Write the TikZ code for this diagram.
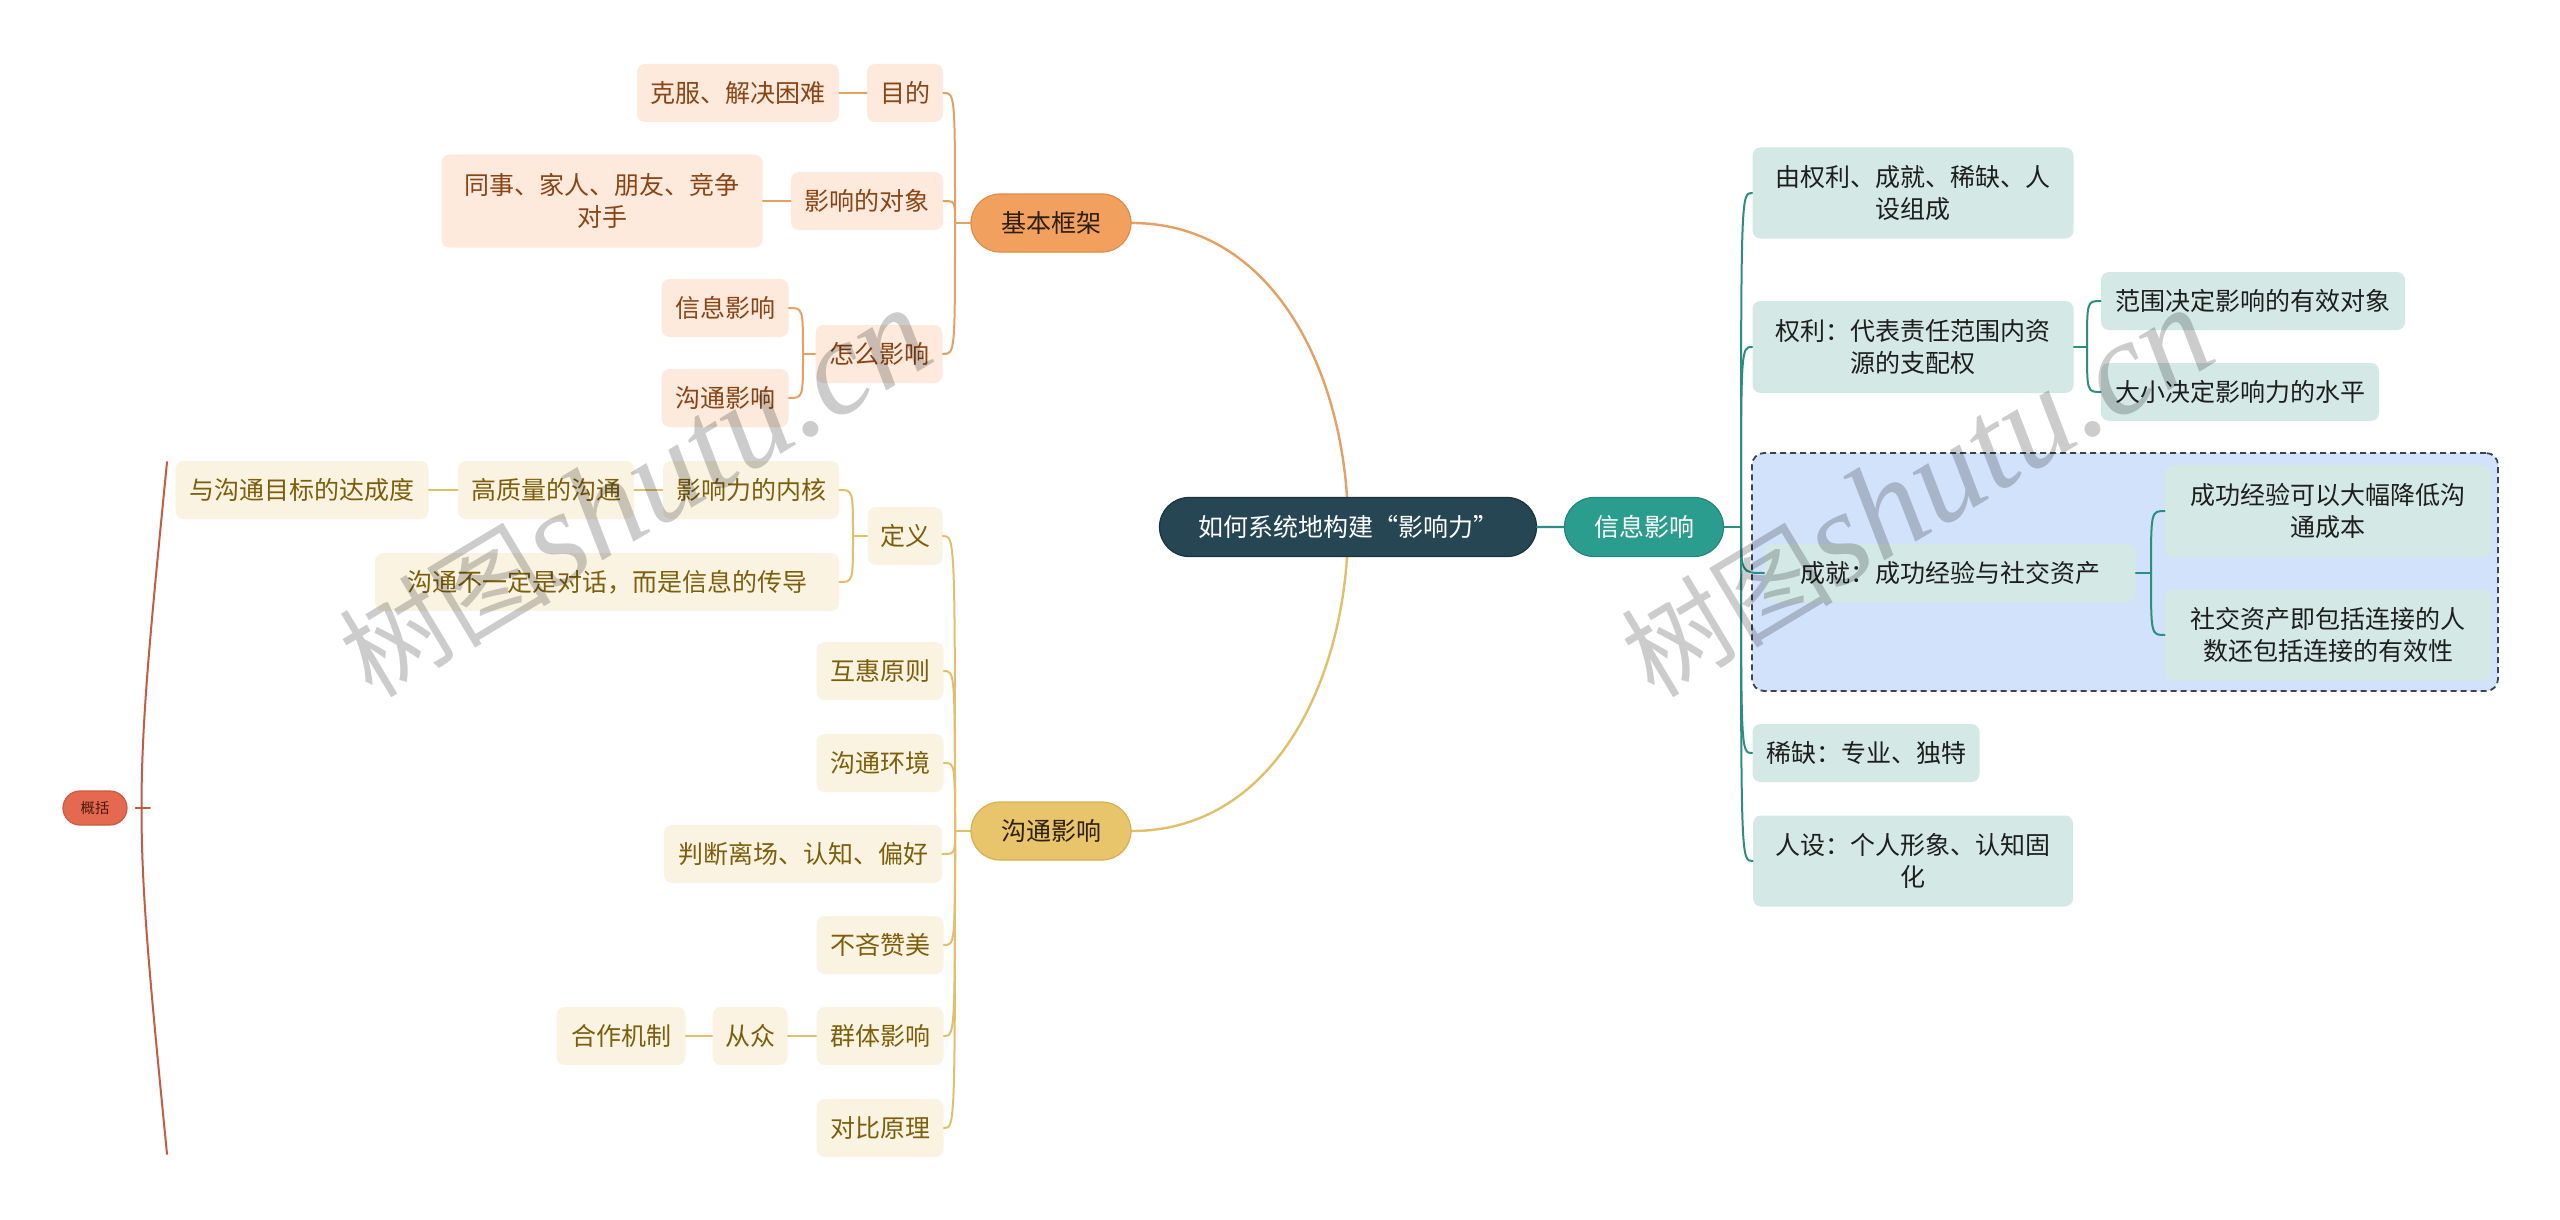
\documentclass[tikz,border=0pt]{standalone}
\usepackage{fontspec}
\setmainfont{Noto Sans CJK SC}
\newfontfamily\wmlatin{Liberation Serif}
\usetikzlibrary{shapes.misc,backgrounds}
\definecolor{ofill}{HTML}{FDEADC}
\definecolor{otext}{HTML}{8A4515}
\definecolor{omain}{HTML}{F1A05E}
\definecolor{omaind}{HTML}{DE8C4A}
\definecolor{oline}{HTML}{E6A062}
\definecolor{yfill}{HTML}{FAF3E2}
\definecolor{ytext}{HTML}{7D5F0B}
\definecolor{ymain}{HTML}{E8C46A}
\definecolor{ymaind}{HTML}{D6B052}
\definecolor{yline}{HTML}{E2C06A}
\definecolor{tfill}{HTML}{D4E9E6}
\definecolor{ttext}{HTML}{1E1E1E}
\definecolor{tmain}{HTML}{2A9D8F}
\definecolor{tmaind}{HTML}{23887B}
\definecolor{tline}{HTML}{2A8E81}
\definecolor{cfill}{HTML}{264653}
\definecolor{cdraw}{HTML}{1A333D}
\definecolor{gfill}{HTML}{D3E2FB}
\definecolor{gdraw}{HTML}{3D4450}
\definecolor{rfill}{HTML}{E4694E}
\definecolor{rdraw}{HTML}{C95A40}
\definecolor{rtext}{HTML}{4A1A10}
\definecolor{rline}{HTML}{C65A42}
\definecolor{maintext}{HTML}{2E2010}
\begin{document}
\begin{tikzpicture}[x=0.5pt,y=-0.5pt,
 nbase/.style={inner sep=0pt, align=center, font=\fontsize{12.5}{16}\selectfont, minimum height=29pt},
 obox/.style={nbase, rectangle, rounded corners=4pt, fill=ofill, text=otext},
 ybox/.style={nbase, rectangle, rounded corners=4pt, fill=yfill, text=ytext},
 tbox/.style={nbase, rectangle, rounded corners=4pt, fill=tfill, text=ttext},
 pill/.style={nbase, rounded rectangle, line width=0.6pt},
 wd/.style={minimum width=#1*0.5pt},
 hgt/.style={minimum height=#1*0.5pt},
 grpbox/.style={rectangle, rounded corners=6pt, draw=gdraw, fill=gfill, dash pattern=on 3pt off 2pt, line width=0.9pt, minimum width=373pt, minimum height=119pt, inner sep=0pt},
 conn/.style={line width=1pt, line cap=round},
 oconn/.style={conn, draw=oline},
 yconn/.style={conn, draw=yline},
 tconn/.style={conn, draw=tline},
 rconn/.style={conn, draw=rline},
 wm/.style={text=black, text opacity=0.2, inner sep=0pt, rotate=31, anchor=base west}]
\begin{scope}[on background layer]
\fill[white] (0,0) rectangle (2560,1220);
\end{scope}
\path[use as bounding box] (0,0) rectangle (2560,1220);

% group box
\node[grpbox] (grp) at (2125,572) {};

% orange branch
\node[pill, fill=omain, draw=omaind, text=maintext, wd=160] (jb) at (1051,223) {基本框架};
\node[obox, wd=76] (md) at (905,93) {目的};
\node[obox, wd=202] (kf) at (738,93) {克服、解决困难};
\node[obox, wd=152] (dx) at (867,201) {影响的对象};
\node[obox, wd=321, hgt=93] (ts) at (602,201) {同事、家人、朋友、竞争\\对手};
\node[obox, wd=127] (zm) at (879,354) {怎么影响};
\node[obox, wd=127] (xx1) at (725,308) {信息影响};
\node[obox, wd=127] (gt1) at (725,398) {沟通影响};

% yellow branch
\node[pill, fill=ymain, draw=ymaind, text=maintext, wd=160] (gm) at (1051,831) {沟通影响};
\node[ybox, wd=75] (dy) at (905,536) {定义};
\node[ybox, wd=176] (nh) at (751,490) {影响力的内核};
\node[ybox, wd=176] (gz) at (546,490) {高质量的沟通};
\node[ybox, wd=253] (dc) at (302,490) {与沟通目标的达成度};
\node[ybox, wd=464] (cd) at (607,582) {沟通不一定是对话，而是信息的传导};
\node[ybox, wd=127] (hh) at (880,671) {互惠原则};
\node[ybox, wd=127] (hj) at (880,763) {沟通环境};
\node[ybox, wd=278] (pd) at (803,854) {判断离场、认知、偏好};
\node[ybox, wd=127] (bl) at (880,945) {不吝赞美};
\node[ybox, wd=127] (qt) at (880,1036) {群体影响};
\node[ybox, wd=75] (cz) at (750,1036) {从众};
\node[ybox, wd=129] (hz) at (621,1036) {合作机制};
\node[ybox, wd=127] (db) at (880,1128) {对比原理};

% center and teal branch
\node[pill, fill=cfill, draw=cdraw, text=white, wd=377, hgt=59] (ct) at (1348,527) {如何系统地构建“影响力”};
\node[pill, fill=tmain, draw=tmaind, text=white, wd=159, hgt=59] (xm) at (1644,527) {信息影响};
\node[tbox, wd=321, hgt=91] (r1) at (1913,193) {由权利、成就、稀缺、人\\设组成};
\node[tbox, wd=321, hgt=92] (r2) at (1913,347) {权利：代表责任范围内资\\源的支配权};
\node[tbox, wd=304] (r21) at (2253,301) {范围决定影响的有效对象};
\node[tbox, wd=278] (r22) at (2240,392) {大小决定影响力的水平};
\node[tbox, wd=371] (r3) at (1950,573) {成就：成功经验与社交资产};
\node[tbox, wd=326, hgt=92] (r31) at (2328,511) {成功经验可以大幅降低沟\\通成本};
\node[tbox, wd=326, hgt=91] (r32) at (2328,635) {社交资产即包括连接的人\\数还包括连接的有效性};
\node[tbox, wd=227] (r4) at (1866,753) {稀缺：专业、独特};
\node[tbox, wd=320, hgt=91] (r5) at (1913,861) {人设：个人形象、认知固\\化};

% summary
\node[pill, fill=rfill, draw=rdraw, text=rtext, wd=64, hgt=34, font=\fontsize{7.2}{8}\selectfont] (gk) at (95,808) {概括};

% main connectors
\begin{scope}[on background layer]
\draw[oconn, line width=1.2pt] (jb.east) .. controls +(146,0) and +(0,-146) .. (ct.center);
\draw[yconn, line width=1.2pt] (gm.east) .. controls +(146,0) and +(0,146) .. (ct.center);
\end{scope}
\draw[tconn, line width=1.2pt] (ct) -- (xm);

% orange brackets
\coordinate (jbs) at (955,223);
\draw[oconn] (jb.west) -- (jbs);
\foreach \n in {md,dx,zm} {\draw[oconn] (jbs) .. controls (jbs |- \n.east) .. (\n.east);}
\draw[oconn] (kf) -- (md);
\draw[oconn] (ts) -- (dx);
\coordinate (zms) at (803,354);
\draw[oconn] (zm.west) -- (zms);
\foreach \n in {xx1,gt1} {\draw[oconn] (zms) .. controls (zms |- \n.east) .. (\n.east);}

% yellow brackets
\coordinate (gms) at (955,831);
\draw[yconn] (gm.west) -- (gms);
\foreach \n in {dy,hh,hj,pd,bl,qt,db} {\draw[yconn] (gms) .. controls (gms |- \n.east) .. (\n.east);}
\coordinate (dys) at (853,536);
\draw[yconn] (dy.west) -- (dys);
\foreach \n in {nh,cd} {\draw[yconn] (dys) .. controls (dys |- \n.east) .. (\n.east);}
\draw[yconn] (dc) -- (gz);
\draw[yconn] (gz) -- (nh);
\draw[yconn] (hz) -- (cz);
\draw[yconn] (cz) -- (qt);

% teal brackets
\coordinate (xs) at (1741,527);
\draw[tconn] (xm.east) -- (xs);
\foreach \n in {r1,r2,r3,r4,r5} {\draw[tconn] (xs) .. controls (xs |- \n.west) .. (\n.west);}
\coordinate (r2s) at (2087,347);
\draw[tconn] (r2.east) -- (r2s);
\foreach \n in {r21,r22} {\draw[tconn] (r2s) .. controls (r2s |- \n.west) .. (\n.west);}
\coordinate (r3s) at (2151,573);
\draw[tconn] (r3.east) -- (r3s);
\foreach \n in {r31,r32} {\draw[tconn] (r3s) .. controls (r3s |- \n.west) .. (\n.west);}

% summary bracket
\coordinate (brt) at (167,462);
\coordinate (brc) at (133,808);
\coordinate (brb) at (167,1154);
\coordinate (brm) at (150,808);
\draw[rconn] (brt) .. controls (brc) .. (brb);
\draw[rconn, shorten <=4pt] (gk.east) -- (brm);

% watermarks
\node[wm] (wm1) at (372,700) {\fontsize{53}{53}\selectfont 树图{\wmlatin\itshape\fontsize{67}{67}\selectfont shutu.cn}};
\node[wm] (wm2) at (1654,700) {\fontsize{53}{53}\selectfont 树图{\wmlatin\itshape\fontsize{67}{67}\selectfont shutu.cn}};
\end{tikzpicture}
\end{document}
